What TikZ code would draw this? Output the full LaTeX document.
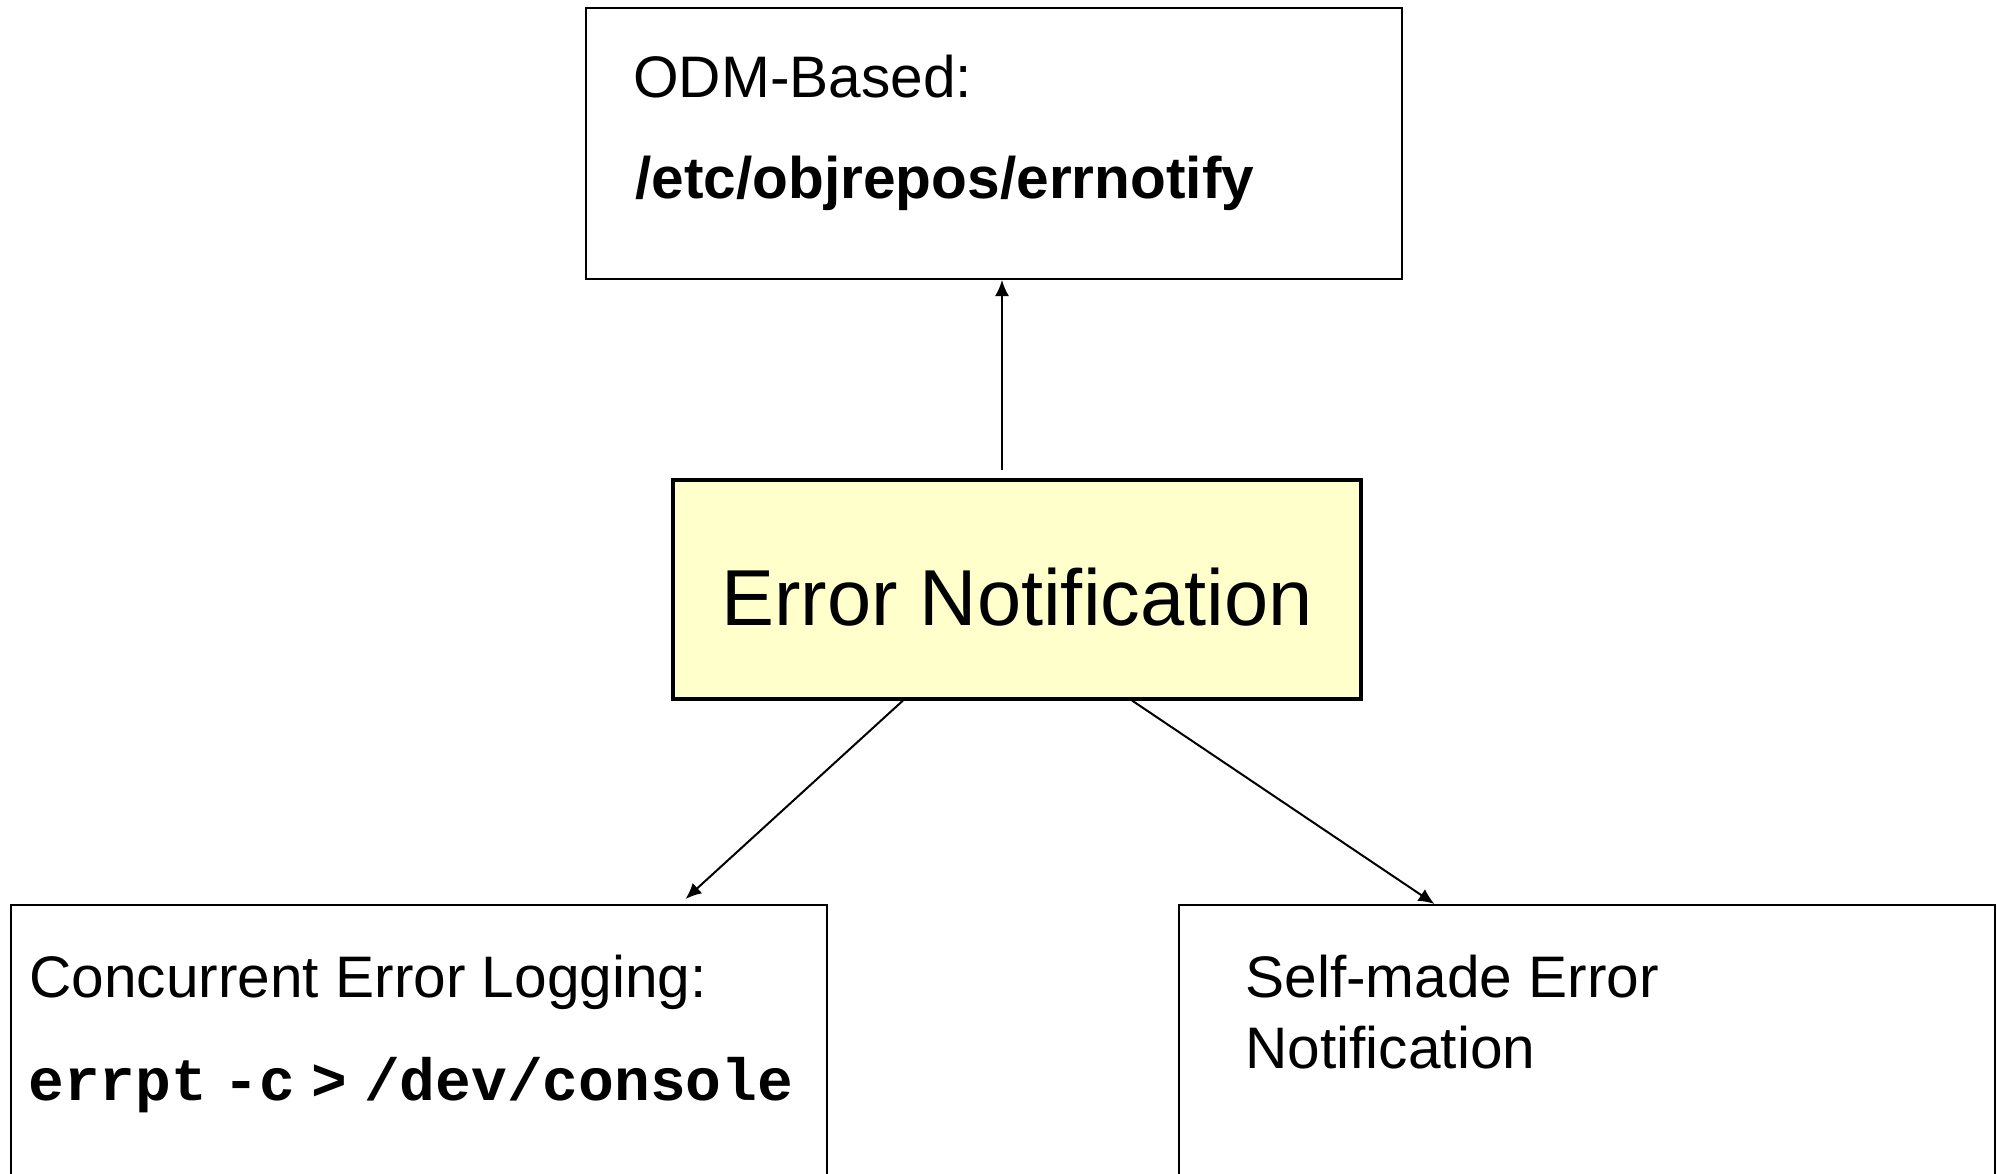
\documentclass[tikz,border=0pt]{standalone}
\usepackage{fontspec}
\setmainfont{Liberation Sans}
\setmonofont{Liberation Mono}
\usetikzlibrary{positioning, arrows.meta}

\definecolor{notefill}{HTML}{FFFFCC}
\newcommand{\cmdtxt}[1]{{\ttfamily\bfseries #1}}

\begin{document}
\begin{tikzpicture}[
    x=0.5pt, y=-0.5pt,
    % Define node styles
    box/.style={
        rectangle,
        draw,
        line width=1pt,
        minimum width=408pt,
        inner sep=0pt
    },
    hub/.style={
        rectangle,
        draw,
        line width=2pt,
        fill=notefill,
        minimum width=344pt,
        minimum height=109.5pt,
        text height=36pt,
        text depth=0pt,
        font=\fontsize{39.7}{47}\selectfont
    },
    txt/.style={
        anchor=base west,
        inner sep=0pt,
        align=left,
        font=\fontsize{29.3}{35.8}\selectfont
    },
    link/.style={draw, line width=1pt, -{Latex[length=8pt, width=7pt]}}
]
    % Page frame, the lower boxes run off the bottom edge
    \useasboundingbox (0,0) rectangle (1997,1173);
    \clip (0,0) rectangle (1997,1173);

    % Central node
    \node[hub] (notify) at (1017,589) {Error Notification};

    % Target boxes
    \node[box, minimum height=135.75pt] (odm) at (994,143.25) {};
    \node[box, minimum height=160pt, anchor=north west] (logging) at (10,904) {};
    \node[box, minimum height=160pt, anchor=north west] (selfmade) at (1178,904) {};

    % Box texts
    \node[txt] (odmhead) at ([shift={(48,91)}]odm.north west) {ODM-Based:};
    \node[txt] (odmpath) at ([shift={(50,191.5)}]odm.north west) {\bfseries /etc/objrepos/errnotify};
    \node[txt] (loghead) at ([shift={(19,93)}]logging.north west) {Concurrent Error Logging:};
    \node[txt, font=\fontsize{29.8}{35.8}\selectfont] (logcmd) at ([shift={(18,196)}]logging.north west) {\cmdtxt{errpt} \cmdtxt{-c} \cmdtxt{>} \cmdtxt{/dev/console}};
    \node[txt] (selfhead) at ([shift={(67,164.6)}]selfmade.north west) {Self-made Error\\Notification};

    % Connectors
    \coordinate (upstart) at ([shift={(-15,-8)}]notify.north);
    \draw[link] (upstart) -- (upstart |- odm.south);
    \draw[link] ([shift={(-114,0)}]notify.south) -- ([shift={(266.5,-5)}]logging.north);
    \draw[link] ([shift={(115,0)}]notify.south) -- ([shift={(-152.5,0)}]selfmade.north);
\end{tikzpicture}
\end{document}
